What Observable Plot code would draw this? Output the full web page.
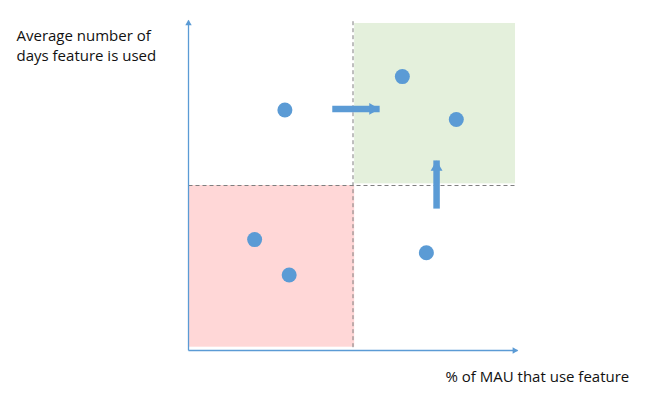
<!DOCTYPE html>
<html>
<head>
<meta charset="utf-8">
<script src="https://cdn.jsdelivr.net/npm/d3@7"></script>
<script src="https://cdn.jsdelivr.net/npm/@observablehq/plot@0.6"></script>
<style>
  html, body { margin: 0; padding: 0; background: #fff; }
  #chart svg { display: block; }
</style>
</head>
<body>
<div id="chart"></div>
<script>
// Feature points: x = % of MAU that use feature, y = average number of days feature is used
const featureX = [29.3, 65.0, 81.4, 20.1, 30.6, 72.3];
const featureY = [72.9, 83.0, 70.0, 33.6, 22.9, 29.6];

// Quadrant thresholds
const thresholdX = 50;
const thresholdY = 50;

// Highlighted quadrants
const quadrantNames = ["low", "high"];
const quadrantX1 = [0, 50.5];
const quadrantX2 = [50.5, 99.4];
const quadrantY1 = [1, 50.5];
const quadrantY2 = [50, 99.1];
const quadrantFill = ["#FFD7D7", "#E4F0DC"];

// Movement arrows
const moveNames = ["wider adoption", "more frequent use"];
const moveX1 = [43.7, 75.4];
const moveY1 = [73.2, 43.0];
const moveX2 = [58.1, 75.4];
const moveY2 = [73.2, 57.6];

// Axis extents
const axisMax = 100;

// Labels
const yLabelLines = ["Average number of", "days feature is used"];
const xLabel = "% of MAU that use feature";

const blue = "#5B9BD5";

const points = featureX.map((x, i) => ({x, y: featureY[i]}));
const quads = quadrantNames.map((name, i) => ({name, x1: quadrantX1[i], x2: quadrantX2[i], y1: quadrantY1[i], y2: quadrantY2[i], fill: quadrantFill[i]}));
const moves = moveNames.map((name, i) => ({name, x1: moveX1[i], y1: moveY1[i], x2: moveX2[i], y2: moveY2[i]}));
const hMoves = moves.filter(d => d.y1 === d.y2);
const vMoves = moves.filter(d => d.x1 === d.x2);

const labelStyle = {frameAnchor: "top-left", textAnchor: "start", lineAnchor: "bottom", fontSize: 15, fill: "#111", dx: -172};

const chart = Plot.plot({
  width: 646,
  height: 396,
  marginLeft: 188,
  marginRight: 129,
  marginTop: 20,
  marginBottom: 46,
  x: {domain: [0, axisMax], axis: null},
  y: {domain: [0, axisMax], axis: null},
  style: {fontFamily: "Open Sans, sans-serif", background: "#fff"},
  marks: [
    Plot.rect(quads, {x1: "x1", x2: "x2", y1: "y1", y2: "y2", fill: "fill"}),
    // dashed quadrant dividers
    Plot.link([thresholdX], {x1: d => d, x2: d => d, y1: quadrantY1[0], y2: axisMax, stroke: "#7f7f7f", strokeWidth: 1, strokeDasharray: "4,3"}),
    Plot.link([thresholdY], {x1: 0, x2: axisMax, y1: d => d, y2: d => d, stroke: "#7f7f7f", strokeWidth: 1, strokeDasharray: "4,3"}),
    // axes with arrowheads
    Plot.link([0], {x1: 0, y1: 0, x2: axisMax, y2: 0, stroke: blue, strokeWidth: 1.3}),
    Plot.link([0], {x1: 0, y1: 0, x2: 0, y2: axisMax, stroke: blue, strokeWidth: 1.3}),
    Plot.dot([0], {x: axisMax, y: 0, symbol: "triangle", r: 2.4, rotate: 90, fill: blue, dx: -3}),
    Plot.dot([0], {x: 0, y: axisMax, symbol: "triangle", r: 2.4, fill: blue, dy: 3}),
    // movement arrows
    Plot.link(hMoves, {x1: "x1", y1: "y1", x2: "x2", y2: "y2", stroke: blue, strokeWidth: 6.5}),
    Plot.dot(hMoves, {x: "x2", y: "y2", symbol: "triangle", r: 4.4, rotate: 90, fill: blue, dx: -7}),
    Plot.link(vMoves, {x1: "x1", y1: "y1", x2: "x2", y2: "y2", stroke: blue, strokeWidth: 6.5}),
    Plot.dot(vMoves, {x: "x2", y: "y2", symbol: "triangle", r: 4.4, fill: blue, dy: 7}),
    // features
    Plot.dot(points, {x: "x", y: "y", r: 7.5, fill: blue}),
    // labels
    Plot.text([yLabelLines[0]], {...labelStyle, text: d => d, dy: 20}),
    Plot.text([yLabelLines[1]], {...labelStyle, text: d => d, dy: 40}),
    Plot.text([xLabel], {text: d => d, frameAnchor: "bottom-right", textAnchor: "start", lineAnchor: "bottom", dx: -72, dy: 31, fontSize: 15, fill: "#111"})
  ]
});
document.getElementById("chart").append(chart);
</script>
</body>
</html>
